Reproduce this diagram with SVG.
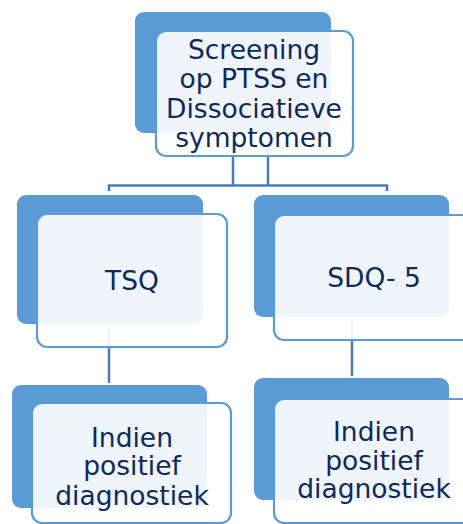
<svg xmlns="http://www.w3.org/2000/svg" width="463" height="524" viewBox="0 0 463 524">
<style>
.back{fill:#5B9BD5}
.front{fill:#FFFFFF;fill-opacity:0.9;stroke:#5B9BD5;stroke-width:2.2}
.conn{stroke:#4A7DB0;stroke-width:2.5;fill:none}
text{font-family:"DejaVu Sans","Verdana",sans-serif;font-size:26.5px;fill:#0E2A5C;text-anchor:middle}
</style>
<rect width="463" height="524" fill="#ffffff"/>
<g id="connectors">
<path class="conn" d="M233,133 V185.5 M268,133 V185.5 M109,191 V185.5 H387 V191"/>
<path class="conn" d="M109,328 V383"/>
<path class="conn" d="M352,321 V376"/>
</g>
<g id="node-screening">
<rect class="back" x="135" y="12" width="196" height="121" rx="9"/>
<rect class="front" x="156" y="31" width="197" height="125" rx="10"/>
<text x="254" y="59">Screening</text>
<text x="254" y="88">op PTSS en</text>
<text x="254" y="118">Dissociatieve</text>
<text x="254" y="147">symptomen</text>
</g>
<g id="node-tsq">
<rect class="back" x="17" y="195" width="186" height="129" rx="9"/>
<rect class="front" x="37" y="214" width="190" height="133" rx="10"/>
<text x="132" y="290">TSQ</text>
</g>
<g id="node-sdq">
<rect class="back" x="254" y="195" width="195" height="122" rx="9"/>
<rect class="front" x="274" y="215" width="199" height="125" rx="10"/>
<text x="374" y="287">SDQ- 5</text>
</g>
<g id="node-indien-left">
<rect class="back" x="12" y="385" width="195" height="123" rx="9"/>
<rect class="front" x="32" y="403" width="199" height="120" rx="10"/>
<text x="132" y="447">Indien</text>
<text x="132" y="475">positief</text>
<text x="132" y="505">diagnostiek</text>
</g>
<g id="node-indien-right">
<rect class="back" x="254" y="378" width="195" height="122" rx="9"/>
<rect class="front" x="274" y="399" width="199" height="124" rx="10"/>
<text x="374" y="441">Indien</text>
<text x="374" y="470">positief</text>
<text x="374" y="498">diagnostiek</text>
</g>
</svg>
